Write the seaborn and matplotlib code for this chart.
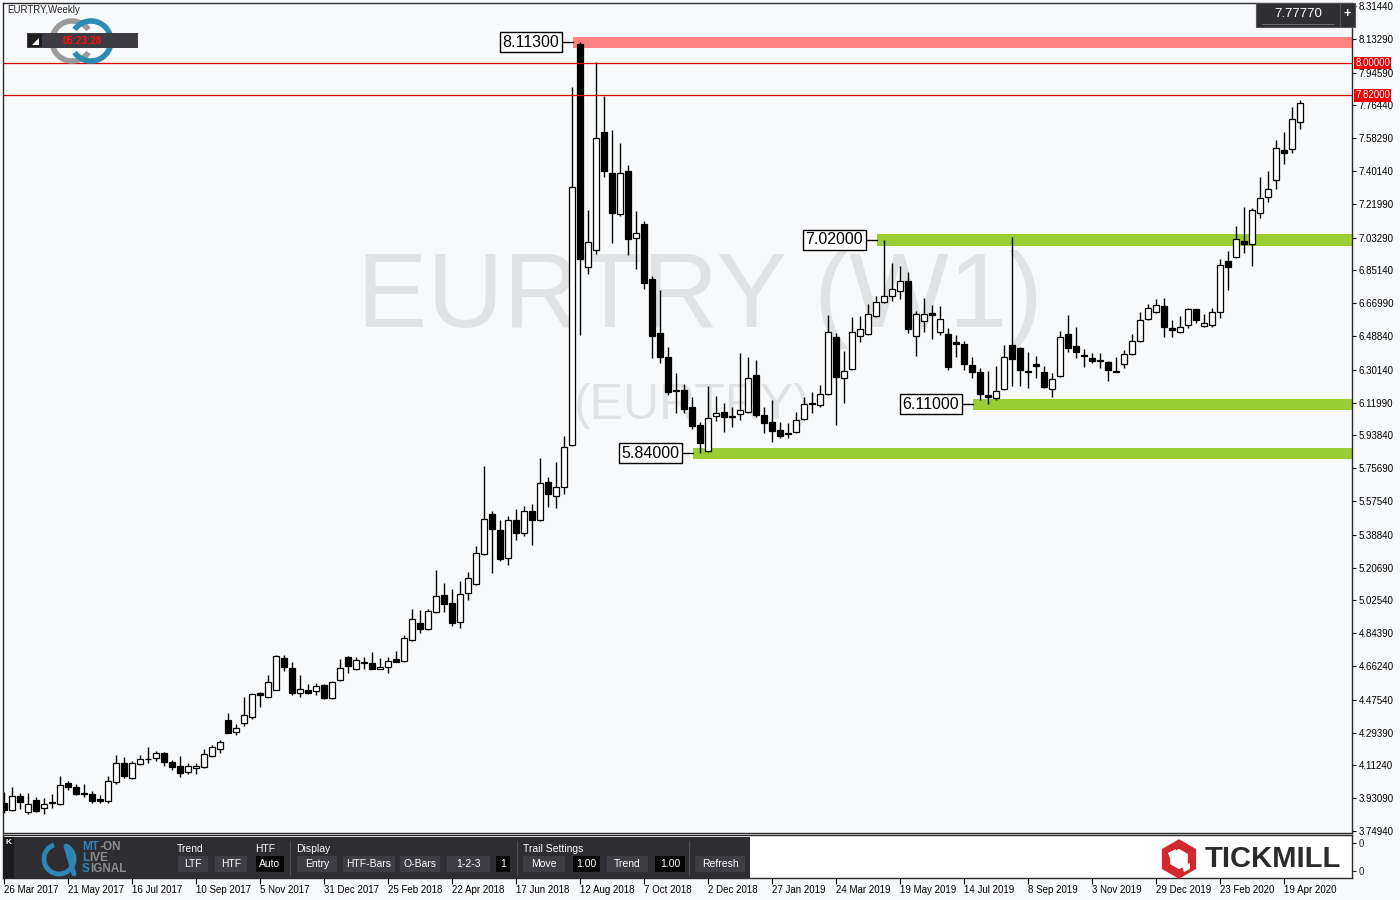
import numpy as np
import pandas as pd
import matplotlib
matplotlib.use('Agg')
import matplotlib.pyplot as plt
import seaborn as sns
from matplotlib.patches import Rectangle, Polygon, Arc

# weekly EURTRY candles, 26 Mar 2017 .. 3 May 2020
opens = [3.904, 3.865, 3.942, 3.854, 3.920, 3.876, 3.903, 3.899, 4.014, 3.992,
         3.960, 3.953, 3.926, 3.915, 4.020, 4.125, 4.042, 4.120, 4.145, 4.153,
         4.180, 4.131, 4.109, 4.076, 4.098, 4.103, 4.164, 4.203, 4.363, 4.297,
         4.347, 4.380, 4.513, 4.491, 4.529, 4.706, 4.651, 4.513, 4.529, 4.524,
         4.557, 4.485, 4.585, 4.712, 4.645, 4.684, 4.679, 4.645, 4.656, 4.701,
         4.690, 4.806, 4.900, 4.867, 4.961, 5.055, 5.011, 4.906, 5.066, 5.116,
         5.282, 5.503, 5.415, 5.260, 5.470, 5.400, 5.520, 5.470, 5.681, 5.603,
         5.653, 5.885, 8.105, 6.870, 6.964, 7.617, 7.390, 7.163, 7.401, 7.031,
         7.108, 6.804, 6.505, 6.372, 6.190, 6.190, 6.095, 5.996, 5.852, 6.046,
         6.068, 6.046, 6.057, 6.068, 6.273, 6.051, 6.013, 5.968, 5.952, 5.957,
         6.029, 6.112, 6.107, 6.168, 6.483, 6.256, 6.306, 6.488, 6.499, 6.599,
         6.677, 6.710, 6.737, 6.793, 6.488, 6.571, 6.616, 6.511, 6.499, 6.455,
         6.444, 6.328, 6.289, 6.162, 6.145, 6.195, 6.438, 6.422, 6.295, 6.333,
         6.289, 6.195, 6.267, 6.499, 6.433, 6.383, 6.367, 6.350, 6.345, 6.295,
         6.333, 6.389, 6.461, 6.582, 6.621, 6.654, 6.532, 6.511, 6.549, 6.638,
         6.544, 6.549, 6.621, 6.903, 6.925, 7.014, 6.997, 7.169, 7.258, 7.352,
         7.518, 7.523, 7.672]
highs = [3.964, 3.992, 3.959, 3.959, 3.937, 3.931, 3.953, 4.053, 4.025, 4.009,
         4.009, 3.970, 3.948, 4.053, 4.170, 4.159, 4.136, 4.170, 4.214, 4.191,
         4.185, 4.142, 4.164, 4.125, 4.125, 4.203, 4.225, 4.253, 4.402, 4.341,
         4.491, 4.513, 4.518, 4.612, 4.723, 4.723, 4.684, 4.612, 4.562, 4.568,
         4.562, 4.579, 4.701, 4.717, 4.712, 4.712, 4.740, 4.706, 4.712, 4.745,
         4.834, 4.977, 4.972, 4.977, 5.193, 5.121, 5.088, 5.132, 5.182, 5.326,
         5.769, 5.520, 5.470, 5.490, 5.530, 5.550, 5.560, 5.813, 5.708, 5.791,
         5.935, 7.866, 8.113, 7.186, 8.005, 7.816, 7.628, 7.556, 7.435, 7.180,
         7.125, 6.820, 6.743, 6.427, 6.284, 6.223, 6.151, 6.013, 6.212, 6.156,
         6.118, 6.096, 6.394, 6.372, 6.356, 6.096, 6.134, 6.013, 6.007, 6.068,
         6.151, 6.178, 6.218, 6.605, 6.505, 6.405, 6.594, 6.599, 6.665, 6.710,
         7.020, 6.892, 6.876, 6.843, 6.627, 6.699, 6.660, 6.654, 6.532, 6.494,
         6.461, 6.372, 6.311, 6.295, 6.322, 6.438, 7.035, 6.428, 6.400, 6.378,
         6.322, 6.284, 6.516, 6.605, 6.538, 6.416, 6.394, 6.394, 6.350, 6.372,
         6.411, 6.499, 6.621, 6.665, 6.693, 6.699, 6.577, 6.599, 6.643, 6.640,
         6.610, 6.643, 6.914, 6.959, 7.097, 7.202, 7.197, 7.368, 7.401, 7.573,
         7.617, 7.756, 7.794]
lows = [3.849, 3.862, 3.870, 3.843, 3.855, 3.843, 3.876, 3.893, 3.975, 3.948,
        3.937, 3.904, 3.904, 3.904, 4.009, 4.042, 4.037, 4.114, 4.125, 4.136,
        4.109, 4.087, 4.048, 4.065, 4.065, 4.100, 4.159, 4.180, 4.292, 4.281,
        4.330, 4.369, 4.435, 4.485, 4.529, 4.634, 4.502, 4.491, 4.507, 4.502,
        4.480, 4.480, 4.579, 4.623, 4.640, 4.645, 4.645, 4.645, 4.623, 4.684,
        4.684, 4.800, 4.845, 4.861, 4.955, 4.961, 4.884, 4.873, 5.027, 5.110,
        5.277, 5.177, 5.245, 5.220, 5.360, 5.380, 5.330, 5.465, 5.542, 5.537,
        5.614, 5.880, 6.494, 6.831, 6.942, 7.368, 7.003, 7.152, 6.936, 6.859,
        6.748, 6.367, 6.339, 6.162, 6.063, 6.063, 5.974, 5.840, 5.846, 6.018,
        5.957, 5.985, 6.024, 6.062, 6.040, 5.952, 5.902, 5.924, 5.924, 5.952,
        6.024, 6.062, 6.096, 6.162, 5.996, 6.118, 6.300, 6.455, 6.494, 6.594,
        6.671, 6.682, 6.693, 6.505, 6.378, 6.511, 6.472, 6.494, 6.300, 6.372,
        6.300, 6.256, 6.134, 6.110, 6.134, 6.190, 6.212, 6.212, 6.201, 6.256,
        6.201, 6.151, 6.262, 6.400, 6.367, 6.317, 6.339, 6.311, 6.240, 6.289,
        6.311, 6.383, 6.455, 6.577, 6.616, 6.483, 6.483, 6.505, 6.532, 6.560,
        6.538, 6.538, 6.588, 6.743, 6.920, 6.948, 6.876, 7.141, 7.230, 7.302,
        7.440, 7.501, 7.634]
closes = [3.865, 3.942, 3.909, 3.898, 3.860, 3.898, 3.906, 4.004, 3.992, 3.953,
          3.956, 3.915, 3.915, 4.026, 4.125, 4.053, 4.125, 4.147, 4.149, 4.180,
          4.131, 4.103, 4.070, 4.109, 4.109, 4.175, 4.214, 4.242, 4.292, 4.319,
          4.391, 4.507, 4.502, 4.574, 4.717, 4.656, 4.513, 4.535, 4.513, 4.551,
          4.485, 4.574, 4.651, 4.662, 4.695, 4.678, 4.645, 4.656, 4.690, 4.684,
          4.817, 4.922, 4.867, 4.967, 5.050, 5.005, 4.900, 5.061, 5.149, 5.288,
          5.476, 5.421, 5.255, 5.470, 5.400, 5.520, 5.470, 5.675, 5.614, 5.653,
          5.874, 7.313, 6.914, 7.009, 7.584, 7.401, 7.169, 7.390, 7.025, 7.058,
          6.782, 6.488, 6.372, 6.178, 6.184, 6.084, 5.990, 5.896, 6.035, 6.062,
          6.040, 6.040, 6.079, 6.256, 6.051, 6.007, 5.963, 5.935, 5.946, 6.024,
          6.112, 6.117, 6.168, 6.511, 6.262, 6.295, 6.511, 6.527, 6.610, 6.677,
          6.710, 6.748, 6.793, 6.527, 6.610, 6.610, 6.605, 6.582, 6.317, 6.444,
          6.333, 6.289, 6.168, 6.151, 6.184, 6.372, 6.361, 6.300, 6.290, 6.322,
          6.206, 6.250, 6.483, 6.422, 6.400, 6.380, 6.350, 6.352, 6.300, 6.289,
          6.389, 6.461, 6.577, 6.643, 6.660, 6.538, 6.521, 6.538, 6.638, 6.577,
          6.560, 6.621, 6.881, 6.870, 7.025, 6.997, 7.186, 7.252, 7.302, 7.529,
          7.501, 7.689, 7.7777]

dates = pd.date_range('2017-03-26', periods=len(opens), freq='W-SUN')

# support / resistance zones: price, first touching candle, colour
zone_levels = [8.113, 7.020, 6.110, 5.840]
zone_touch = [72, 110, 122, 87]
zone_colors = ['#FF8282', '#9ACD32', '#9ACD32', '#9ACD32']

price_lines = [8.0, 7.82]
axis_ticks = [8.31440, 8.13290, 7.94590, 7.76440, 7.58290, 7.40140, 7.21990,
              7.03290, 6.85140, 6.66990, 6.48840, 6.30140, 6.11990, 5.93840,
              5.75690, 5.57540, 5.38840, 5.20690, 5.02540, 4.84390, 4.66240,
              4.47540, 4.29390, 4.11240, 3.93090, 3.74940]
last_price = 7.77770

sns.set_theme(style='white')
plt.rcParams['font.family'] = ['Liberation Sans', 'DejaVu Sans']

bg = '#F8F9FB'
fig = plt.figure(figsize=(14, 9), dpi=100, facecolor=bg)
ax = fig.add_axes([3 / 1400, 67 / 900, 1349 / 1400, 830 / 900])
sub = fig.add_axes([3 / 1400, 22 / 900, 1349 / 1400, 43 / 900], sharex=ax)
ax.set_facecolor(bg)
sub.set_facecolor('white')

df = pd.DataFrame({'date': dates, 'open': opens, 'high': highs,
                   'low': lows, 'close': closes})
df['i'] = np.arange(len(df))
xmax = 168.5

# watermark
ax.text(87, 6.69, 'EURTRY (W1)', fontsize=76, color='#E1E2E3', ha='center',
        va='center', zorder=0)
ax.text(86, 6.10, '(EURTRY)', fontsize=36, color='#E1E2E3', ha='center',
        va='center', zorder=0)

# zones with boxed labels
for lvl, touch, col in zip(zone_levels, zone_touch, zone_colors):
    start = touch - 0.9
    ax.fill_between([start, xmax], lvl - 0.031, lvl + 0.031, color=col,
                    lw=0, zorder=1)
    ax.plot([start - 1.25, start], [lvl, lvl], color='black', lw=1, zorder=1)
    ax.text(start - 1.7, lvl, f'{lvl:.5f}', ha='right', va='center',
            fontsize=11.5, color='black', zorder=5,
            bbox=dict(boxstyle='square,pad=0.15', fc='white', ec='black', lw=1))

for p in price_lines:
    ax.axhline(p, color='#E00000', lw=0.9, zorder=4)

# candles
up = df['close'] >= df['open']
ax.vlines(df['i'], df['low'], df['high'], color='black', lw=1, zorder=2)
body_low = df[['open', 'close']].min(axis=1)
body_h = (df['close'] - df['open']).abs().clip(lower=0.004)
ax.bar(df['i'], body_h, bottom=body_low, width=0.65,
       color=np.where(up, 'white', 'black'), edgecolor='black', lw=0.9,
       zorder=3)

ax.set_xlim(-0.125, xmax)
ax.set_ylim(3.738, 8.331)
ax.yaxis.tick_right()
ax.set_yticks(axis_ticks)
ax.set_yticklabels([f'{t:.5f}' for t in axis_ticks])
ax.tick_params(axis='y', length=3, width=0.8, labelsize=7, pad=2,
               colors='black', right=True, left=False)
ax.tick_params(axis='x', bottom=False, labelbottom=False)
for s in ax.spines.values():
    s.set_color('#2A2A2A')
    s.set_linewidth(1)

for p in price_lines:
    ax.text(1.0025, p, f'{p:.5f}', transform=ax.get_yaxis_transform(),
            ha='left', va='center', fontsize=7, color='white', zorder=6,
            bbox=dict(boxstyle='square,pad=0.12', fc='#F00000', ec='none'),
            clip_on=False)

# sub window and date axis
tick_idx = list(range(0, len(df), 8))
sub.set_xticks(tick_idx)
sub.set_xticklabels([f'{d.day} {d:%b %Y}' for d in df['date'].iloc[tick_idx]],
                    ha='left')
sub.tick_params(axis='x', length=4, width=0.8, labelsize=7, pad=1,
                bottom=True, colors='black')
sub.set_ylim(0, 1)
sub.yaxis.tick_right()
sub.set_yticks([0.16, 0.81])
sub.set_yticklabels(['0', '0'])
sub.tick_params(axis='y', length=3, width=0.8, labelsize=7, pad=2,
                right=True, left=False)
for s in sub.spines.values():
    s.set_color('#2A2A2A')
    s.set_linewidth(1)

# overlay in pixel coordinates for the terminal decorations
ov = fig.add_axes([0, 0, 1, 1], zorder=10)
ov.set_xlim(0, 1400)
ov.set_ylim(900, 0)
ov.axis('off')

ov.text(7, 10, 'EURTRY,Weekly', fontsize=7, color='#222222', va='center')
ov.add_patch(Arc((72, 41), 40, 40, theta1=35, theta2=325, color='#9A9A9A', lw=4))
ov.add_patch(Arc((91, 41), 40, 40, theta1=-145, theta2=145, color='#2C8CB4', lw=4))
ov.add_patch(Rectangle((27, 33), 111, 15, fc='#3C3C42', ec='none'))
ov.add_patch(Rectangle((28, 34), 14, 13, fc='#1E1E1E', ec='none'))
ov.add_patch(Polygon([[32, 45], [39, 45], [39, 38]], fc='white', ec='none'))
ov.text(82, 40.5, '05:23:28', fontsize=7, color='#FF1010', fontweight='bold',
        ha='center', va='center')

ov.add_patch(Rectangle((1256, 3), 84, 24, fc='#2E2E33', ec='#555555', lw=0.8))
ov.plot([1262, 1334], [24, 24], color='#777777', lw=0.6)
ov.text(1298, 14, f'{last_price:.5f}', fontsize=9.5, color='white',
        ha='center', va='center')
ov.add_patch(Rectangle((1340, 3), 15, 24, fc='#2E2E33', ec='#555555', lw=0.8))
ov.text(1347.5, 14, '+', fontsize=9, color='white', ha='center', va='center',
        fontweight='bold')

# indicator panel
ov.add_patch(Rectangle((3, 837), 747, 41, fc='#2D2D32', ec='none'))
ov.add_patch(Rectangle((3, 837), 11, 41, fc='#1C1C1F', ec='none'))
ov.text(8.5, 843, 'K', fontsize=6, color='white', ha='center', va='center',
        fontweight='bold')
ov.add_patch(Arc((59, 859), 30, 30, theta1=-60, theta2=250, color='#2E86B8', lw=3.5))
ov.plot([66, 74], [846, 874], color='#2E86B8', lw=3.5)
logo_rows = [('MT', '-ON', 100), ('L', 'IVE', 89), ('S', 'IGNAL', 90)]
for row, (a, b, xb) in enumerate(logo_rows):
    yy = 847 + row * 11
    ov.text(82, yy, a, fontsize=8.5, color='#2E86B8', fontweight='bold',
            va='center')
    ov.text(xb, yy, b, fontsize=8.5, color='#8C8C8C', fontweight='bold',
            va='center')

for txt, xx in [('Trend', 177), ('HTF', 255), ('Display', 296), ('Trail Settings', 523)]:
    ov.text(xx, 849, txt, fontsize=7.5, color='white', va='center')
buttons = [('LTF', 178, 30, '#3D3D43'), ('HTF', 215, 32, '#3D3D43'),
           ('Auto', 256, 28, '#050505'), ('Entry', 297, 40, '#3D3D43'),
           ('HTF-Bars', 343, 52, '#3D3D43'), ('O-Bars', 400, 40, '#3D3D43'),
           ('1-2-3', 447, 43, '#3D3D43'), ('1', 496, 14, '#050505'),
           ('Move', 523, 42, '#3D3D43'), ('1.00', 573, 27, '#050505'),
           ('Trend', 607, 41, '#3D3D43'), ('1.00', 655, 30, '#050505'),
           ('Refresh', 695, 50, '#3D3D43')]
for txt, xx, w, col in buttons:
    ov.add_patch(Rectangle((xx, 856), w, 16, fc=col, ec='none'))
    ov.text(xx + w / 2, 864, txt, fontsize=7.5, color='white', ha='center',
            va='center')
for xx in [290, 517, 689]:
    ov.plot([xx, xx], [841, 875], color='#505058', lw=0.8)

# broker logo
cx, cy, r = 1179, 859, 15
ang = np.deg2rad(np.arange(90, 450, 60))
hexagon = np.column_stack([cx + r * np.cos(ang), cy + r * np.sin(ang)])
ov.add_patch(Polygon(hexagon, closed=True, fc='none', ec='#D3272E', lw=6,
                     joinstyle='miter'))
ov.add_patch(Polygon([[1168, 853], [1176, 849], [1176, 855], [1170, 858]],
                     fc='white', ec='none'))
ov.add_patch(Polygon([[1182, 867], [1190, 863], [1190, 869], [1184, 872]],
                     fc='white', ec='none'))
ov.text(1205, 859, 'TICKMILL', fontsize=21, fontweight='bold', color='#2B2B2B',
        va='center', ha='left')

fig.savefig('out.png', dpi=100, facecolor=bg)
